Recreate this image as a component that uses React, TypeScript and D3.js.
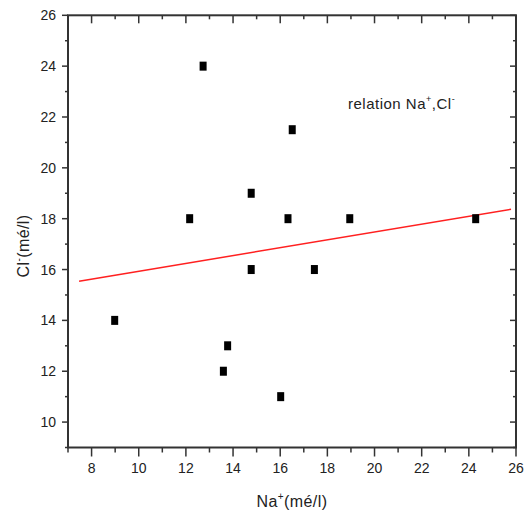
import React from "react";
import * as d3 from "d3";

const naValues = [12.73, 16.51, 14.77, 12.16, 16.33, 18.95, 24.29, 14.77, 17.45, 8.98, 13.77, 13.59, 16.02];
const clValues = [24, 21.5, 19, 18, 18, 18, 18, 16, 16, 14, 13, 12, 11];
const fitX = [7.47, 25.79];
const fitY = [15.54, 18.37];
const xTickLabels = [8, 10, 12, 14, 16, 18, 20, 22, 24, 26];
const yTickLabels = [10, 12, 14, 16, 18, 20, 22, 24, 26];
const xDomain = [7, 26];
const yDomain = [9, 26];

const W = 528;
const H = 516;
const L = 68, R = 516, T = 15.3, B = 447.5;

export default function App() {
  const x = d3.scaleLinear().domain(xDomain).range([L, R]);
  const y = d3.scaleLinear().domain(yDomain).range([B, T]);
  const xMinor = d3.range(xDomain[0], xDomain[1] + 1);
  const yMinor = d3.range(yDomain[0], yDomain[1] + 1);
  const line = d3.line<number>().x((d, i) => x(fitX[i])).y((d, i) => y(fitY[i]));
  const axisColor = "#333";
  const font = "'Liberation Sans', Arial, sans-serif";

  return (
    <svg width={W} height={H} style={{ position: "absolute", left: 0, top: 0, background: "#fff" }} fontFamily={font}>
      <rect x={0} y={0} width={W} height={H} fill="#fff" />
      {/* fit line */}
      <path d={line(fitY) || ""} fill="none" stroke="#ff2020" strokeWidth={1.5} />
      {/* points */}
      {naValues.map((v, i) => (
        <rect key={i} x={x(v) - 3.5} y={y(clValues[i]) - 4.5} width={7} height={9} fill="#000" />
      ))}
      {/* ticks */}
      {xMinor.map((t) => {
        const major = xTickLabels.includes(t);
        const len = major ? 9 : 5;
        return (
          <g key={"xm" + t} stroke={axisColor} strokeWidth={1.5}>
            <line x1={x(t)} x2={x(t)} y1={B} y2={B + len} />
            <line x1={x(t)} x2={x(t)} y1={T} y2={T + (major ? 8 : 4)} />
          </g>
        );
      })}
      {yMinor.map((t) => {
        const major = yTickLabels.includes(t);
        const len = major ? 6 : 3;
        return (
          <g key={"ym" + t} stroke={axisColor} strokeWidth={1.5}>
            <line x1={L} x2={L - len} y1={y(t)} y2={y(t)} />
            <line x1={R} x2={R - len} y1={y(t)} y2={y(t)} />
          </g>
        );
      })}
      {/* frame */}
      <rect x={L} y={T} width={R - L} height={B - T} fill="none" stroke={axisColor} strokeWidth={2} />
      {/* tick labels */}
      {xTickLabels.map((t) => (
        <text key={"xl" + t} x={x(t)} y={473} textAnchor="middle" fontSize={14} fill="#222">
          {t}
        </text>
      ))}
      {yTickLabels.map((t) => (
        <text key={"yl" + t} x={56} y={y(t) + 5} textAnchor="end" fontSize={14} fill="#222">
          {t}
        </text>
      ))}
      {/* axis titles */}
      <text x={292} y={507} textAnchor="middle" fontSize={16} fill="#222" letterSpacing={0.4}>
        Na<tspan fontSize={10} dy={-7}>+</tspan>
        <tspan dy={7}>(mé/l)</tspan>
      </text>
      <text transform={`translate(29,246) rotate(-90)`} textAnchor="middle" fontSize={16} fill="#222" letterSpacing={0.4}>
        Cl<tspan fontSize={10} dy={-7}>-</tspan>
        <tspan dy={7}>(mé/l)</tspan>
      </text>
      {/* annotation */}
      <text x={348} y={109} fontSize={15} fill="#222" letterSpacing={0.5}>
        relation Na<tspan fontSize={9} dy={-7}>+</tspan>
        <tspan dy={7}>,Cl</tspan>
        <tspan fontSize={9} dy={-7}>-</tspan>
      </text>
    </svg>
  );
}
